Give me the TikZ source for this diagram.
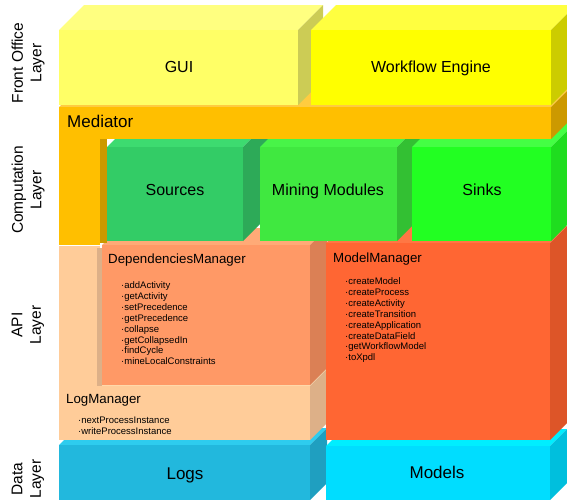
\documentclass[tikz,border=0pt]{standalone}
\usepackage{fontspec}
\setmainfont{Liberation Sans}
\usetikzlibrary{positioning}

\definecolor{guifront}{HTML}{FFFF66}
\definecolor{guitop}{HTML}{FFFF80}
\definecolor{guiside}{HTML}{CCCC55}
\definecolor{wffront}{HTML}{FFFF00}
\definecolor{wftop}{HTML}{FFFF40}
\definecolor{wfside}{HTML}{CCCC00}
\definecolor{medfront}{HTML}{FFBF00}
\definecolor{medtop}{HTML}{FFCC40}
\definecolor{medside}{HTML}{CC9900}
\definecolor{srcfront}{HTML}{33CC66}
\definecolor{srctop}{HTML}{3DDB70}
\definecolor{srcside}{HTML}{2DAA58}
\definecolor{minefront}{HTML}{40E840}
\definecolor{minetop}{HTML}{48F448}
\definecolor{mineside}{HTML}{33C033}
\definecolor{sinkfront}{HTML}{22FF22}
\definecolor{sinktop}{HTML}{44FF44}
\definecolor{sinkside}{HTML}{1FDD1F}
\definecolor{depfront}{HTML}{FF9966}
\definecolor{deptop}{HTML}{FFAA77}
\definecolor{depside}{HTML}{DB8055}
\definecolor{logmfront}{HTML}{FFCC99}
\definecolor{logmtop}{HTML}{FFD9AA}
\definecolor{logmside}{HTML}{DDB088}
\definecolor{modmfront}{HTML}{FF6633}
\definecolor{modmtop}{HTML}{FF7744}
\definecolor{modmside}{HTML}{DD5528}
\definecolor{logsfront}{HTML}{22B8DD}
\definecolor{logstop}{HTML}{2ECCEE}
\definecolor{logsside}{HTML}{1F9FC0}
\definecolor{modsfront}{HTML}{00DDFF}
\definecolor{modstop}{HTML}{00EEFF}
\definecolor{modsside}{HTML}{00BFDD}

\tikzstyle{title} = [font=\fontsize{16}{19}\selectfont, inner sep=0pt,
  text height=11.5pt, text depth=0pt]
\tikzstyle{bigtitle} = [font=\fontsize{17}{20}\selectfont, inner sep=0pt,
  text height=12.2pt, text depth=0pt]
\tikzstyle{mgrtitle} = [font=\fontsize{13.3}{16}\selectfont, anchor=west,
  inner sep=0pt, text height=9.6pt, text depth=0pt]
\tikzstyle{methods} = [font=\fontsize{9.5}{10.9}\selectfont, align=left,
  anchor=north west, inner sep=0pt]
\tikzstyle{layerlabel} = [font=\fontsize{15.5}{18.5}\selectfont, rotate=90,
  align=center, inner sep=0pt]

% box with front, top and right faces: x1,y1,x2,y2,depth,front,top,side
\newcommand{\cubebox}[8]{%
  \fill[#7] (#1,#2) -- (#3,#2) -- ++(#5,-#5) -- ({#1+#5},{#2-#5}) -- cycle;
  \fill[#8] (#3,#2) -- ++(#5,-#5) -- ({#3+#5},{#4-#5}) -- (#3,#4) -- cycle;
  \fill[#6] (#1,#2) rectangle (#3,#4);
}

\begin{document}
\begin{tikzpicture}[x=1pt, y=-1pt]
    \useasboundingbox (0,0) rectangle (567,499);
    \clip (0,0) rectangle (567,499);

    % data layer
    \cubebox{59}{445}{310}{500}{17}{logsfront}{logstop}{logsside}
    \cubebox{326}{446}{550}{500}{17}{modsfront}{modstop}{modsside}

    % api layer
    \cubebox{59}{386}{310}{440}{17}{logmfront}{logmtop}{logmside}
    \fill[logmfront] (59,246) rectangle (100,386);
    \fill[logmside] (97,248) rectangle (102,386);
    \cubebox{102}{245}{310}{385}{17}{depfront}{deptop}{depside}
    \cubebox{326}{243}{550}{440}{17}{modmfront}{modmtop}{modmside}

    % computation layer
    \cubebox{107}{147}{243}{241}{25}{srcfront}{srctop}{srcside}
    \cubebox{260}{147}{397}{241}{25}{minefront}{minetop}{mineside}
    \cubebox{412}{147}{551}{241}{25}{sinkfront}{sinktop}{sinkside}

    % mediator
    \cubebox{59}{107}{551}{139}{25}{medfront}{medtop}{medside}
    \fill[medfront] (59,139) rectangle (100,245);
    \fill[medside] (100,139) rectangle (107,243);

    % front office layer
    \cubebox{59}{30}{298}{105}{25}{guifront}{guitop}{guiside}
    \cubebox{311}{30}{551}{105}{25}{wffront}{wftop}{wfside}

    \node [title] (gui) at (179,67) {GUI};
    \node [title] (workflow) at (431,67) {Workflow Engine};
    \node [bigtitle, anchor=west] (mediator) at (67,121) {Mediator};
    \node [title] (sources) at (175,190) {Sources};
    \node [title] (mining) at (328,190) {Mining Modules};
    \node [title] (sinks) at (482,190) {Sinks};
    \node [bigtitle] (logs) at (185,473) {Logs};
    \node [bigtitle] (models) at (437,472) {Models};

    \node [mgrtitle] (depmgr) at (108,259) {DependenciesManager};
    \node [methods] (depmethods) at (121,281.5)
      {·addActivity\\·getActivity\\·setPrecedence\\·getPrecedence\\
       ·collapse\\·getCollapsedIn\\·findCycle\\·mineLocalConstraints};
    \node [mgrtitle] (logmgr) at (66,399) {LogManager};
    \node [methods] (logmethods) at (78,416.5)
      {·nextProcessInstance\\·writeProcessInstance};
    \node [mgrtitle] (modelmgr) at (333,258) {ModelManager};
    \node [methods] (modelmethods) at (345,277.5)
      {·createModel\\·createProcess\\·createActivity\\·createTransition\\
       ·createApplication\\·createDataField\\·getWorkflowModel\\·toXpdl};

    \node [layerlabel] (lblfront) at (28,63) {Front Office\\Layer};
    \node [layerlabel] (lblcomp) at (28,190) {Computation\\Layer};
    \node [layerlabel] (lblapi) at (28,325) {API\\Layer};
    \node [layerlabel] (lbldata) at (28,479) {Data\\Layer};

\end{tikzpicture}
\end{document}
